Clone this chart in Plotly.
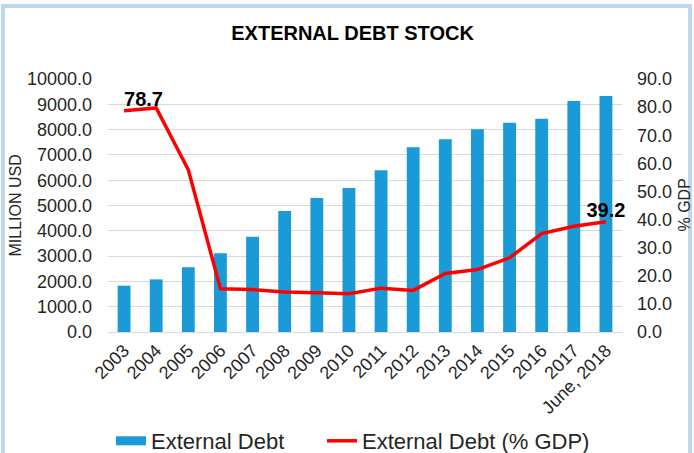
import plotly.graph_objects as go

years = ["2003", "2004", "2005", "2006", "2007", "2008", "2009", "2010",
         "2011", "2012", "2013", "2014", "2015", "2016", "2017", "June, 2018"]
debt_musd = [1830, 2080, 2560, 3110, 3760, 4780, 5300, 5690,
             6390, 7300, 7620, 8010, 8270, 8430, 9130, 9330]
debt_pct_gdp = [78.7, 79.7, 57.7, 15.4, 15.1, 14.2, 14.0, 13.6,
                15.6, 14.8, 20.8, 22.2, 26.4, 35.0, 37.6, 39.2]
labelled = {0: "top right", 15: "top center"}

left_ticks = [i * 1000 for i in range(11)]
right_ticks = [i * 10 for i in range(10)]

FONT = "Liberation Sans, Arial, sans-serif"
BLUE = "#1A9BD7"
RED = "#FF0000"

# plot-area pixel geometry
L, R, T, B = 108, 622, 79, 332
PW, PH = R - L, B - T


def px(xp):
    return (xp - L) / PW


def py(yp):
    return (B - yp) / PH


texts = [f"{v:.1f}" if i in labelled else "" for i, v in enumerate(debt_pct_gdp)]
positions = [labelled.get(i, "top center") for i in range(len(debt_pct_gdp))]

fig = go.Figure()
fig.add_trace(go.Bar(
    x=years, y=debt_musd, name="External Debt",
    marker=dict(color=BLUE, line=dict(width=0)),
    yaxis="y", showlegend=False,
))
# legend-only entry giving the wide rectangular swatch of the bar series
fig.add_trace(go.Scatter(
    x=[None], y=[None], name="External Debt", mode="lines",
    line=dict(color=BLUE, width=9), legend="legend", hoverinfo="skip",
))
fig.add_trace(go.Scatter(
    x=years, y=debt_pct_gdp, name="External Debt (% GDP)",
    mode="lines+text", line=dict(color=RED, width=3.5),
    text=texts, textposition=positions,
    textfont=dict(family=FONT, size=20, color="#000000", weight="bold"),
    yaxis="y2", cliponaxis=False, legend="legend2",
))

legend_common = dict(
    orientation="h", xanchor="left", xref="paper",
    yanchor="middle", yref="paper",
    font=dict(size=22, color="#262626"),
    itemwidth=30, bgcolor="rgba(0,0,0,0)",
)

fig.update_layout(
    width=694, height=453,
    margin=dict(l=L, r=694 - R, t=T, b=453 - B, autoexpand=False),
    paper_bgcolor="white", plot_bgcolor="white",
    font=dict(family=FONT, color="#262626"),
    bargap=0.6,
    title=dict(text="<b>EXTERNAL DEBT STOCK</b>", x=0.508, xanchor="center",
               y=1 - 33 / 453, yanchor="middle",
               font=dict(family=FONT, size=20, color="#000000")),
    xaxis=dict(
        range=[-0.5, len(years) - 0.5],
        tickangle=-45, tickfont=dict(size=18, color="#262626"),
        showgrid=False, showline=True, linecolor="#D9D9D9", linewidth=1,
        ticks="", automargin=False,
    ),
    yaxis=dict(
        range=[0, 10000], tickvals=left_ticks,
        ticktext=[f"{v:.1f}" for v in left_ticks],
        tickfont=dict(size=18, color="#262626"),
        showgrid=True, gridcolor="#D9D9D9", gridwidth=1, zeroline=False,
        ticklabelstandoff=15, automargin=False,
    ),
    yaxis2=dict(
        range=[0, 90], tickvals=right_ticks,
        ticktext=[f"{v:.1f}" for v in right_ticks],
        tickfont=dict(size=18, color="#262626"),
        overlaying="y", side="right", showgrid=False, zeroline=False,
        ticklabelstandoff=14, automargin=False,
    ),
    legend=dict(x=px(111), y=py(441), **legend_common),
    legend2=dict(x=px(322), y=py(441), **legend_common),
    showlegend=True,
)

fig.add_annotation(
    text="MILLION USD", xref="paper", yref="paper",
    x=px(15), y=0.5, textangle=-90, showarrow=False,
    xanchor="center", yanchor="middle",
    font=dict(family=FONT, size=16, color="#262626"),
)
fig.add_annotation(
    text="% GDP", xref="paper", yref="paper",
    x=px(684), y=0.5, textangle=-90, showarrow=False,
    xanchor="center", yanchor="middle",
    font=dict(family=FONT, size=16, color="#262626"),
)

fig.add_shape(
    type="rect", xref="paper", yref="paper",
    x0=px(3), x1=px(690), y0=py(470), y1=py(6),
    line=dict(color="#BDD7EE", width=4), fillcolor="rgba(0,0,0,0)",
    layer="below",
)

fig.write_html(
    "out.html",
    config={"displayModeBar": False},
    post_script="document.body.style.margin='0';document.body.style.overflow='hidden';",
)
